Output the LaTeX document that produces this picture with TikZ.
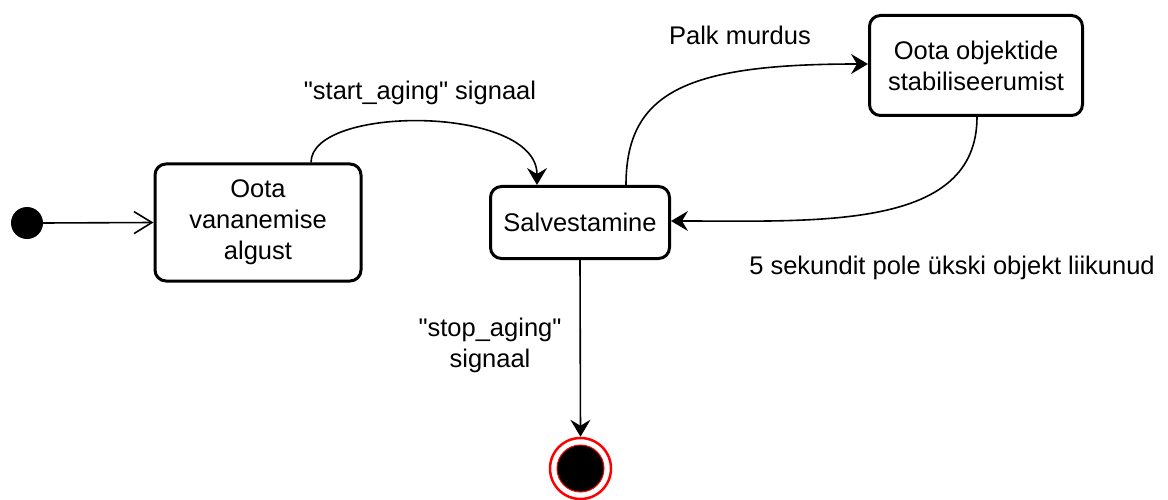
\documentclass[tikz,border=0pt]{standalone}
\usepackage{fontspec}
\setmainfont{Liberation Sans}
\usetikzlibrary{arrows.meta}
\begin{document}
\begin{tikzpicture}[x=1pt,y=-1pt,
  every node/.style={font=\fontsize{25.5}{31}\selectfont},
  state/.style={draw,rounded corners=11pt,line width=3pt,inner sep=0pt,outer sep=1.5pt,align=center},
  conn/.style={line width=1.6pt,-{Stealth[length=17pt,width=20pt,inset=6pt]}},
  lbl/.style={align=center,inner sep=0pt}]
\useasboundingbox (0,0) rectangle (1168,500);
\node[circle,fill=black,minimum size=32pt,inner sep=0pt] (init) at (27,223) {};
\node[state,minimum width=206pt,minimum height=117pt] (b1) at (258,222.5) {Oota\\vananemise\\algust};
\node[state,minimum width=179pt,minimum height=72pt] (b2) at (580,222.5) {Salvestamine};
\node[state,minimum width=213pt,minimum height=100pt] (b3) at (976,65.5) {Oota objektide\\stabiliseerumist};
\node[circle,draw=red,line width=2.5pt,minimum size=61pt,inner sep=0pt,outer sep=1.25pt] (fs) at (580.5,468.5) {};
\node[circle,fill=black,draw=red,line width=1pt,minimum size=47pt,inner sep=0pt] (fsin) at (fs.center) {};
\draw[line width=1.6pt,-{Straight Barb[length=18pt,width=22pt]}] (init.east) -- (b1.west);
\draw[conn] ([xshift=53pt]b1.north) .. controls +(0,-58) and +(0,-80) .. ([xshift=-43pt]b2.north);
\draw[conn] ([xshift=46pt]b2.north) .. controls +(0,-95) and +(-178,0) .. ([yshift=1.5pt]b3.west);
\draw[conn] ([xshift=1pt]b3.south) .. controls +(0,113) and +(149,0) .. ([yshift=1.5pt]b2.east);
\draw[conn] (b2.south) -- (fs.north);
\node[lbl] (l1) at (420,93) {\textquotedbl start\_aging\textquotedbl{} signaal};
\node[lbl] (l2) at (740,35) {Palk murdus};
\node[lbl] (l3) at (952,268) {5 sekundit pole ükski objekt liikunud};
\node[lbl] (l4) at (490,345) {\textquotedbl stop\_aging\textquotedbl\\signaal};
\end{tikzpicture}
\end{document}
